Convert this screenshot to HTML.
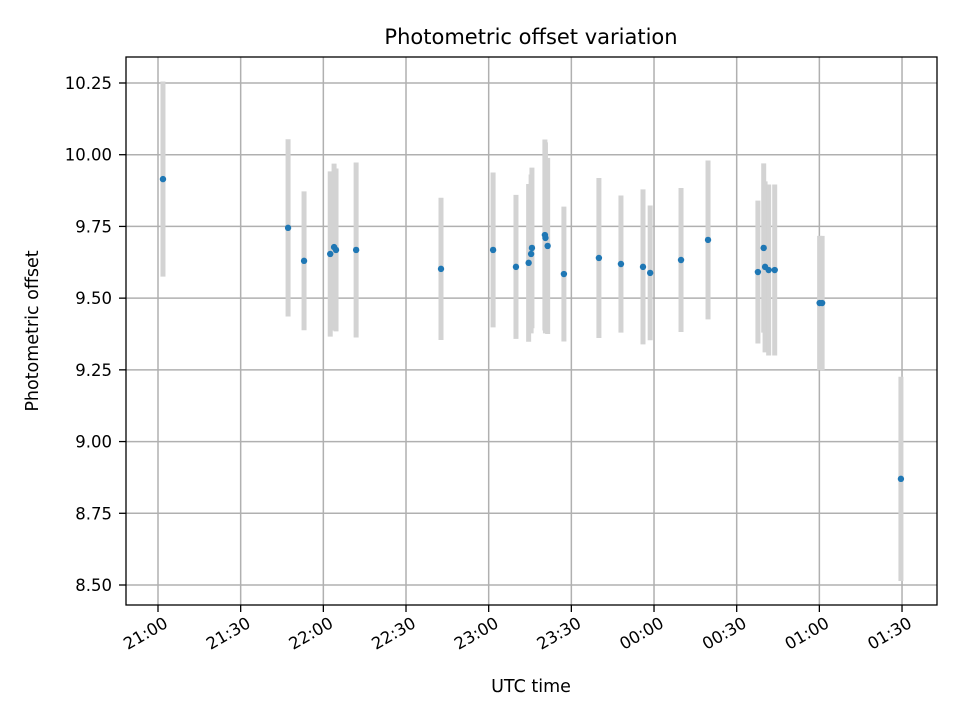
<!DOCTYPE html>
<html><head><meta charset="utf-8"><style>body{margin:0;background:#fff}svg text{font-family:"DejaVu Sans","Liberation Sans",sans-serif;fill:#000}</style></head>
<body>
<svg id="chart" width="960" height="720" xmlns="http://www.w3.org/2000/svg">
<rect width="960" height="720" fill="#fff"/>
<g id="grid"></g><g id="bars"></g><g id="pts"></g>
<rect x="126" y="57" width="811" height="548" fill="none" stroke="#000" stroke-width="1.3"/>
<g id="axes"></g>
<text x="531" y="44" font-size="21" text-anchor="middle">Photometric offset variation</text>
<text x="531" y="692" font-size="17.5" text-anchor="middle">UTC time</text>
<text transform="translate(38,331) rotate(-90)" font-size="17.5" text-anchor="middle">Photometric offset</text>
</svg>
<script>
const minutes=[1.8,47.2,53.0,62.5,63.9,64.6,71.9,102.7,121.6,129.9,134.5,135.4,135.7,140.4,140.6,141.4,147.3,160.0,168.0,176.0,178.6,189.8,199.6,217.7,219.8,220.3,221.6,223.8,240.1,241.0,269.6];
const offsets=[9.915,9.745,9.630,9.654,9.678,9.668,9.668,9.602,9.668,9.609,9.623,9.654,9.675,9.720,9.710,9.682,9.584,9.640,9.619,9.609,9.588,9.633,9.703,9.591,9.675,9.609,9.598,9.598,9.483,9.483,8.870];
const errors=[0.340,0.309,0.242,0.288,0.291,0.284,0.305,0.248,0.270,0.251,0.275,0.277,0.28,0.333,0.333,0.307,0.235,0.279,0.239,0.270,0.235,0.251,0.277,0.249,0.295,0.298,0.298,0.298,0.234,0.234,0.356];
const yTicks=[8.5,8.75,9.0,9.25,9.5,9.75,10.0,10.25];
const xTickMinutes=[0,30,60,90,120,150,180,210,240,270];
const xTickLabels=["21:00","21:30","22:00","22:30","23:00","23:30","00:00","00:30","01:00","01:30"];
const NS="http://www.w3.org/2000/svg";
const X=m=>158+m*82.67/30;
const Y=v=>585-(v-8.5)*286.86;
function mk(parent,tag,attrs){const e=document.createElementNS(NS,tag);for(const k in attrs)e.setAttribute(k,attrs[k]);document.getElementById(parent).appendChild(e);return e;}
yTicks.forEach((t,i)=>{
 const g=mk('grid','line',{x1:126,x2:937,y1:Y(t),y2:Y(t),stroke:'#b0b0b0','stroke-width':1.5});
 
 const tk=mk('axes','line',{x1:119,x2:126,y1:Y(t),y2:Y(t),stroke:'#000','stroke-width':1.3});
 
 const tx=mk('axes','text',{x:112,y:Y(t)+6,'font-size':16.5,'text-anchor':'end'});
 tx.textContent=t.toFixed(2);
 
});
xTickMinutes.forEach((m,i)=>{
 const x=X(m);
 const g=mk('grid','line',{x1:x,x2:x,y1:57,y2:605,stroke:'#b0b0b0','stroke-width':1.5});
 
 const tk=mk('axes','line',{x1:x,x2:x,y1:605,y2:612,stroke:'#000','stroke-width':1.3});
 
 const tx=mk('axes','text',{transform:`translate(${x+5},${616}) rotate(-30)`,'font-size':16.5,'text-anchor':'end','dominant-baseline':'hanging'});
 tx.textContent=xTickLabels[i];
 
});
minutes.forEach((m,i)=>{
 const b=mk('bars','line',{x1:X(m),x2:X(m),y1:Y(offsets[i]-errors[i]),y2:Y(offsets[i]+errors[i]),stroke:'#d3d3d3','stroke-width':5});
 
});
minutes.forEach((m,i)=>{
 const c=mk('pts','circle',{cx:X(m),cy:Y(offsets[i]),r:3.2,fill:'#1f77b4'});
 
});
</script>
</body></html>
